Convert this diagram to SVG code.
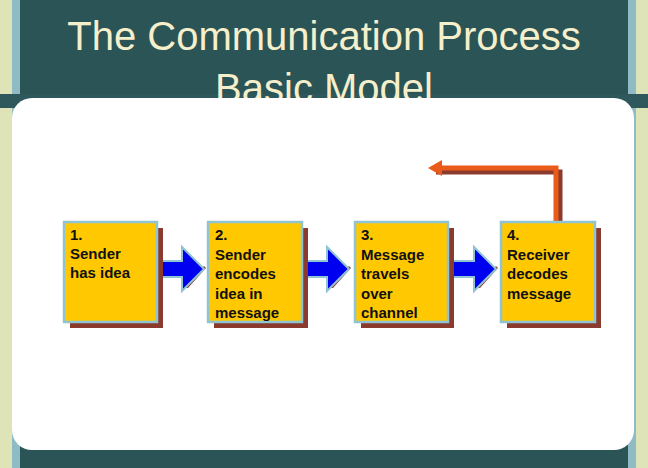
<svg xmlns="http://www.w3.org/2000/svg" width="648" height="468" viewBox="0 0 648 468">
<defs>
<style>
.sh{fill:#8b3a2e}
.box{fill:#ffc800;stroke:#8fc4d4;stroke-width:2.5}
.t{font-family:"Liberation Sans",Arial,sans-serif;font-size:15px;font-weight:bold;fill:#111}
.ttl{font-family:"Liberation Sans",Arial,sans-serif;font-size:40px;fill:#f6efcb;text-anchor:middle}
.ar{fill:#0000f0;stroke:#8fc4d4;stroke-width:2}
</style>
<g id="ar"><polygon class="sh" points="0,33 22,33 22,39 28,39 46,19 44,17 26,37 26,33"/><polygon class="ar" points="0,8 22,8 22,-6 44,16 22,38 22,24 0,24" transform="translate(0,4)"/></g>
</defs>
<rect width="648" height="468" fill="#2b5457"/>
<rect x="0" y="0" width="12" height="468" fill="#dfe3b8"/>
<rect x="12" y="0" width="8" height="468" fill="#8fbcc4"/>
<rect x="636" y="0" width="12" height="468" fill="#dfe3b8"/>
<rect x="628" y="0" width="8" height="468" fill="#8fbcc4"/>
<rect x="20" y="0" width="608" height="96" fill="#2b5457"/>
<rect x="0" y="94" width="648" height="14" fill="#2e585b"/>
<text class="ttl" x="324" y="50">The Communication Process</text>
<text class="ttl" x="324" y="102">Basic Model</text>
<rect x="12" y="98" width="622" height="352" rx="20" fill="#fff"/>
<g id="connectors">
<use href="#ar" x="160" y="249"/>
<use href="#ar" x="305" y="249"/>
<use href="#ar" x="452" y="249"/>
<path d="M560 226 V172 H436" fill="none" stroke="#8b3a2e" stroke-width="5"/>
<path d="M556 222 V168 H440" fill="none" stroke="#ea5a18" stroke-width="5"/>
<polygon points="428,168 442,160 442,176" fill="#ea5a18"/>
</g>
<g id="n1"><rect class="sh" x="70" y="228" width="93" height="100"/><rect class="box" x="64" y="222" width="93" height="100"/><text class="t" x="70" y="240">1.<tspan x="70" dy="19">Sender</tspan><tspan x="70" dy="19">has idea</tspan></text></g>
<g id="n2"><rect class="sh" x="214" y="228" width="94" height="100"/><rect class="box" x="208" y="222" width="94" height="100"/><text class="t" x="215" y="240">2.<tspan x="215" dy="19.5">Sender</tspan><tspan x="215" dy="19.5">encodes</tspan><tspan x="215" dy="19.5">idea in</tspan><tspan x="215" dy="19.5">message</tspan></text></g>
<g id="n3"><rect class="sh" x="361" y="228" width="93" height="100"/><rect class="box" x="355" y="222" width="93" height="100"/><text class="t" x="361" y="240">3.<tspan x="361" dy="19.5">Message</tspan><tspan x="361" dy="19.5">travels</tspan><tspan x="361" dy="19.5">over</tspan><tspan x="361" dy="19.5">channel</tspan></text></g>
<g id="n4"><rect class="sh" x="507" y="228" width="94" height="100"/><rect class="box" x="501" y="222" width="94" height="100"/><text class="t" x="507" y="240">4.<tspan x="507" dy="19.5">Receiver</tspan><tspan x="507" dy="19.5">decodes</tspan><tspan x="507" dy="19.5">message</tspan></text></g>
</svg>
